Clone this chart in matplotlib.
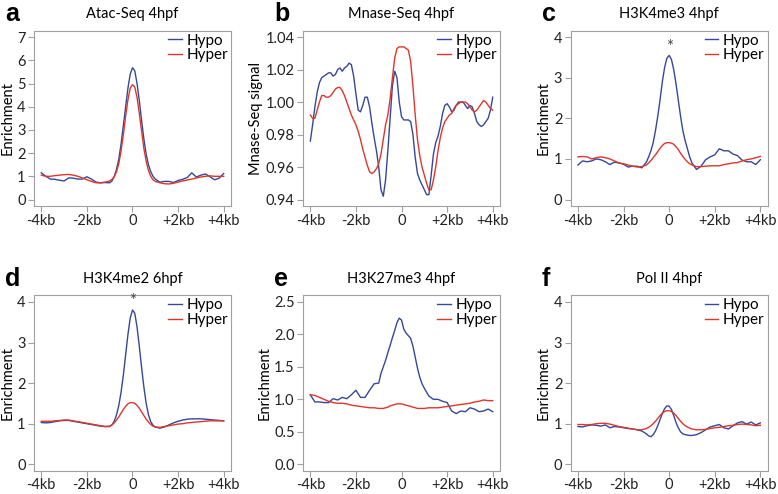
import numpy as np
import matplotlib
matplotlib.use('Agg')
import matplotlib.pyplot as plt

plt.rcParams['font.family'] = ['Lato', 'DejaVu Sans']

# positions in kb around the region center
x_grid = ([-4.0, -3.8, -3.6, -3.4, -3.2, -3.0, -2.8, -2.6, -2.4, -2.2, -2.0, -1.8, -1.6, -1.4, -1.2]
          + [-1.0, -0.9, -0.8, -0.7, -0.6, -0.5, -0.4, -0.3, -0.2, -0.1, 0.0,
             0.1, 0.2, 0.3, 0.4, 0.5, 0.6, 0.7, 0.8, 0.9, 1.0]
          + [1.2, 1.4, 1.6, 1.8, 2.0, 2.2, 2.4, 2.6, 2.8, 3.0, 3.2, 3.4, 3.6, 3.8, 4.0])
x_fine = [round(-4 + 0.1 * i, 1) for i in range(81)]

# a: Atac-Seq 4hpf
a_hypo = [1.15, 1.0, 0.88, 0.87, 0.83, 0.8, 0.93, 0.92, 0.88, 0.88, 0.98, 0.88, 0.75, 0.72, 0.73,
          0.72, 0.8, 1.0, 1.3, 1.75, 2.4, 3.2, 4.0, 4.8, 5.4, 5.68, 5.55, 5.0, 4.25, 3.4, 2.6, 1.95, 1.5, 1.2, 1.0, 0.88,
          0.75, 0.78, 0.78, 0.73, 0.82, 0.87, 0.95, 1.15, 0.97, 1.05, 1.1, 0.98, 0.85, 0.92, 1.12]
a_hyper = [1.05, 1.0, 1.0, 1.03, 1.05, 1.07, 1.08, 1.05, 1.0, 0.93, 0.85, 0.78, 0.72, 0.72, 0.75,
           0.8, 0.87, 0.98, 1.2, 1.55, 2.1, 2.8, 3.6, 4.3, 4.8, 4.95, 4.85, 4.4, 3.7, 2.95, 2.2, 1.65, 1.25, 1.0, 0.85, 0.78,
           0.72, 0.68, 0.67, 0.7, 0.75, 0.8, 0.84, 0.88, 0.93, 0.97, 1.0, 1.02, 1.0, 1.0, 1.0]

# b: Mnase-Seq 4hpf (0.1 kb steps)
b_hypo = [0.976, 0.986, 0.997, 1.006, 1.012, 1.015, 1.016, 1.017, 1.018, 1.018,
          1.016, 1.017, 1.020, 1.021, 1.019, 1.021, 1.022, 1.024, 1.023, 1.016,
          1.005, 0.995, 0.994, 0.998, 1.003, 1.003, 0.997, 0.987, 0.978, 0.970,
          0.960, 0.946, 0.942, 0.952, 0.970, 0.990, 1.010, 1.019, 1.015, 1.000,
          0.991, 0.989, 0.989, 0.989, 0.988, 0.980, 0.966, 0.956, 0.952, 0.949,
          0.946, 0.943, 0.943, 0.955, 0.968, 0.975, 0.979, 0.985, 0.993, 0.998,
          0.999, 0.997, 0.994, 0.995, 0.998, 1.000, 1.000, 1.000, 0.998, 0.996,
          0.998, 0.997, 0.993, 0.988, 0.986, 0.985, 0.986, 0.988, 0.990, 0.995, 1.003]
b_hyper = [0.992, 0.990, 0.990, 0.995, 1.000, 1.004, 1.004, 1.003, 1.003, 1.004,
           1.006, 1.008, 1.009, 1.009, 1.007, 1.004, 1.000, 0.996, 0.992, 0.989,
           0.986, 0.982, 0.977, 0.971, 0.966, 0.961, 0.957, 0.956, 0.957, 0.959,
           0.962, 0.968, 0.977, 0.986, 0.992, 1.002, 1.015, 1.027, 1.033, 1.034,
           1.034, 1.034, 1.033, 1.032, 1.025, 1.010, 0.992, 0.977, 0.967, 0.960,
           0.955, 0.950, 0.946, 0.946, 0.952, 0.960, 0.970, 0.978, 0.984, 0.988,
           0.990, 0.992, 0.993, 0.996, 0.998, 0.999, 1.000, 1.000, 1.000, 0.999,
           0.997, 0.995, 0.994, 0.995, 0.997, 0.999, 1.001, 1.000, 0.998, 0.996, 0.995]

# c: H3K4me3 4hpf
c_hypo = [0.85, 0.95, 0.93, 0.95, 1.0, 0.98, 0.93, 0.86, 0.92, 0.9, 0.87, 0.8, 0.82, 0.82, 0.78,
          0.92, 1.05, 1.2, 1.4, 1.7, 2.05, 2.45, 2.9, 3.25, 3.48, 3.55, 3.45, 3.2, 2.85, 2.45, 2.05, 1.7, 1.45, 1.25, 1.05, 0.9,
          0.74, 0.82, 0.98, 1.05, 1.1, 1.25, 1.2, 1.2, 1.12, 1.08, 0.97, 0.93, 0.93, 0.86, 0.98]
c_hyper = [1.05, 1.06, 1.05, 1.0, 1.03, 1.05, 1.03, 1.0, 0.95, 0.9, 0.88, 0.85, 0.82, 0.8, 0.81,
           0.85, 0.9, 0.96, 1.03, 1.1, 1.18, 1.26, 1.33, 1.38, 1.4, 1.4, 1.39, 1.36, 1.3, 1.23, 1.14, 1.06, 0.99, 0.93, 0.88, 0.85,
           0.81, 0.81, 0.82, 0.83, 0.83, 0.83, 0.86, 0.88, 0.9, 0.91, 0.95, 0.98, 1.0, 1.03, 1.06]

# d: H3K4me2 6hpf
d_hypo = [1.03, 1.02, 1.03, 1.05, 1.07, 1.08, 1.08, 1.06, 1.04, 1.02, 1.0, 0.98, 0.96, 0.94, 0.93,
          0.93, 0.97, 1.06, 1.22, 1.45, 1.78, 2.2, 2.7, 3.2, 3.6, 3.8, 3.72, 3.38, 2.9, 2.38, 1.9, 1.5, 1.22, 1.05, 0.96, 0.92,
          0.89, 0.92, 0.97, 1.02, 1.06, 1.09, 1.11, 1.12, 1.12, 1.12, 1.11, 1.1, 1.09, 1.08, 1.07]
d_hyper = [1.06, 1.06, 1.06, 1.07, 1.08, 1.09, 1.09, 1.07, 1.05, 1.03, 1.01, 0.99, 0.97, 0.95, 0.93,
           0.94, 0.97, 1.02, 1.09, 1.17, 1.26, 1.35, 1.43, 1.49, 1.52, 1.52, 1.5, 1.45, 1.38, 1.29, 1.2, 1.11, 1.04, 0.98, 0.94, 0.92,
           0.91, 0.93, 0.95, 0.97, 0.99, 1.0, 1.02, 1.03, 1.04, 1.05, 1.06, 1.07, 1.07, 1.07, 1.07]

# e: H3K27me3 4hpf
e_hypo = [1.07, 0.96, 0.96, 0.95, 0.95, 1.01, 0.99, 1.03, 1.01, 1.07, 1.14, 1.03, 1.03, 1.14, 1.24,
          1.25, 1.4, 1.5, 1.6, 1.72, 1.83, 1.95, 2.06, 2.18, 2.25, 2.22, 2.08, 2.02, 1.98, 1.94, 1.82, 1.65, 1.48, 1.34, 1.24, 1.17,
          1.05, 1.0, 1.0, 0.97, 0.95, 0.82, 0.78, 0.82, 0.81, 0.87, 0.85, 0.81, 0.82, 0.85, 0.81]
e_hyper = [1.07, 1.06, 1.03, 1.0, 0.97, 0.95, 0.94, 0.94, 0.93, 0.91, 0.9, 0.89, 0.88, 0.87, 0.87,
           0.86, 0.86, 0.86, 0.87, 0.88, 0.9, 0.91, 0.92, 0.93, 0.93, 0.93, 0.92, 0.91, 0.9, 0.89, 0.88, 0.87, 0.86, 0.86, 0.86, 0.86,
           0.87, 0.87, 0.87, 0.88, 0.89, 0.9, 0.91, 0.92, 0.93, 0.94, 0.96, 0.97, 0.99, 0.98, 0.98]

# f: Pol II 4hpf
f_hypo = [0.93, 0.92, 0.95, 0.97, 0.96, 0.94, 0.97, 0.9, 0.93, 0.92, 0.9, 0.88, 0.87, 0.85, 0.82,
          0.75, 0.7, 0.68, 0.73, 0.82, 0.95, 1.1, 1.25, 1.37, 1.44, 1.43, 1.35, 1.2, 1.03, 0.9, 0.8, 0.75, 0.73, 0.72, 0.71, 0.71,
          0.73, 0.78, 0.85, 0.92, 0.95, 0.98, 0.9, 0.87, 0.95, 1.02, 1.05, 0.99, 1.04, 0.97, 1.02]
f_hyper = [0.98, 0.98, 0.97, 0.98, 1.0, 1.01, 1.01, 0.99, 0.96, 0.93, 0.91, 0.89, 0.87, 0.85, 0.85,
           0.88, 0.91, 0.95, 1.0, 1.06, 1.13, 1.2, 1.26, 1.3, 1.32, 1.32, 1.3, 1.26, 1.2, 1.13, 1.06, 1.0, 0.95, 0.92, 0.89, 0.87,
           0.85, 0.85, 0.86, 0.88, 0.9, 0.91, 0.93, 0.95, 0.96, 0.98, 0.99, 0.98, 0.97, 0.95, 0.96]

x_ticks = [-4, -2, 0, 2, 4]
x_labels = ['-4kb', '-2kb', '0', '+2kb', '+4kb']

panels = [
    ('a', 'Atac-Seq 4hpf', 'Enrichment', x_grid, a_hypo, a_hyper, [0, 1, 2, 3, 4, 5, 6, 7], '{:g}', False),
    ('b', 'Mnase-Seq 4hpf', 'Mnase-Seq signal', x_fine, b_hypo, b_hyper, [0.94, 0.96, 0.98, 1.00, 1.02, 1.04], '{:.2f}', False),
    ('c', 'H3K4me3 4hpf', 'Enrichment', x_grid, c_hypo, c_hyper, [0, 1, 2, 3, 4], '{:g}', True),
    ('d', 'H3K4me2 6hpf', 'Enrichment', x_grid, d_hypo, d_hyper, [0, 1, 2, 3, 4], '{:g}', True),
    ('e', 'H3K27me3 4hpf', 'Enrichment', x_grid, e_hypo, e_hyper, [0.0, 0.5, 1.0, 1.5, 2.0, 2.5], '{:.1f}', False),
    ('f', 'Pol II 4hpf', 'Enrichment', x_grid, f_hypo, f_hyper, [0, 1, 2, 3, 4], '{:g}', False),
]

blue = '#34489a'
red = '#e0352a'
grey = '#a0a0a0'

fig = plt.figure(figsize=(7.78, 4.94), dpi=100)
lefts = [0.0437, 0.3895, 0.7335]
bottoms = [0.583, 0.047]

for i, (letter, title, ylab, xs, hypo, hyper, yt, fmt, star) in enumerate(panels):
    row, col = divmod(i, 3)
    ax = fig.add_axes([lefts[col], bottoms[row], 0.2532, 0.355])
    ax.plot(xs, hypo, color=blue, lw=1.0, label='Hypo')
    ax.plot(xs, hyper, color=red, lw=1.0, label='Hyper')
    ax.set_xlim(-4.32, 4.32)
    pad = 0.04 * (yt[-1] - yt[0])
    ax.set_ylim(yt[0] - pad, yt[-1] + pad)
    ax.set_xticks(x_ticks)
    ax.set_xticklabels(x_labels)
    ax.set_yticks(yt)
    ax.set_yticklabels([fmt.format(v) for v in yt])
    for s in ax.spines.values():
        s.set_color(grey)
        s.set_linewidth(0.8)
    ax.tick_params(direction='out', length=4, width=0.8, color=grey,
                   labelsize=10.5, labelcolor='#222222', pad=2)
    ax.tick_params(axis='x', pad=1.5)
    ax.set_ylabel(ylab, fontsize=10.5, labelpad=2)
    ax.set_title(title, fontsize=10.5, pad=9)
    ax.legend(loc='upper right', frameon=False, fontsize=11, handlelength=0.9,
              handletextpad=0.3, labelspacing=0.05, borderaxespad=0.1, borderpad=0.1)
    if star:
        top = max(hypo)
        ax.text(xs[hypo.index(top)], top + 0.02, '*', ha='center', va='bottom', fontsize=12, color='#444444')
    pos = ax.get_position()
    fig.text(pos.x0 - 0.037, pos.y1 + 0.033, letter, fontsize=18, fontweight='bold',
             ha='left', va='center', family=['Liberation Sans', 'DejaVu Sans'])

fig.savefig('out.png', dpi=100)
